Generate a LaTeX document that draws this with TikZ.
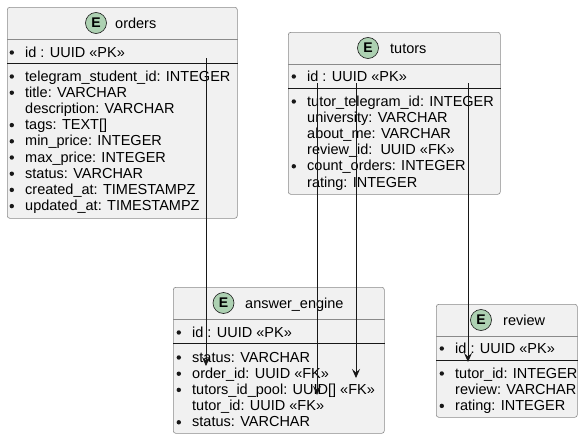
\documentclass[tikz,border=0pt]{standalone}
\usepackage{fontspec}
\setmainfont{Liberation Sans}
\usetikzlibrary{arrows.meta}

\definecolor{boxfill}{HTML}{F1F1F1}
\definecolor{boxline}{HTML}{8A8A8A}
\definecolor{spot}{HTML}{ADD1B2}
\definecolor{ink}{HTML}{181818}

\tikzset{
    entity/.style={draw=boxline, fill=boxfill, rounded corners=2.5pt, line width=0.6pt, anchor=north west, inner sep=0},
    headline/.style={boxline, line width=0.6pt},
    sepline/.style={ink, line width=0.9pt},
    spotE/.style={circle, draw=ink, fill=spot, line width=0.6pt, minimum size=21pt, inner sep=0, font=\fontsize{14pt}{14pt}\selectfont\bfseries},
    title/.style={anchor=base west, inner sep=0},
    field/.style={anchor=base west, inner sep=0, text height=11pt, text depth=2pt},
    item/.style={field, label={[circle, fill=ink, inner sep=0, minimum size=4.4pt, label distance=10.8pt]left:{}}},
    link/.style={->, ink, line width=0.8pt},
    >={Stealth[length=9pt, width=8pt, inset=3.5pt]}
}

\begin{document}
\begin{tikzpicture}[x=1pt, y=-1pt, font=\fontsize{14.5pt}{17pt}\selectfont]
            \useasboundingbox (0,0) rectangle (587,439);

            % Entities
            \node[entity, minimum width=230pt, minimum height=211pt] (orders) at (7,7) {};
            \node[entity, minimum width=212pt, minimum height=162pt] (tutors) at (288,32) {};
            \node[entity, minimum width=211pt, minimum height=146pt] (answer) at (173,287) {};
            \node[entity, minimum width=141pt, minimum height=113pt] (review) at (436,304) {};

            % Header and key lines
            \draw[headline] (orders.west |- 0,39.5) -- (orders.east |- 0,39.5);
            \draw[sepline] (orders.west |- 0,63) -- (orders.east |- 0,63);
            \draw[headline] (tutors.west |- 0,64) -- (tutors.east |- 0,64);
            \draw[sepline] (tutors.west |- 0,88) -- (tutors.east |- 0,88);
            \draw[headline] (answer.west |- 0,319) -- (answer.east |- 0,319);
            \draw[sepline] (answer.west |- 0,343) -- (answer.east |- 0,343);
            \draw[headline] (review.west |- 0,336) -- (review.east |- 0,336);
            \draw[sepline] (review.west |- 0,360) -- (review.east |- 0,360);

            % Titles
            \node[spotE] (ordersE) at (96,23) {E};
            \node[title] (ordersT) at (115,28) {orders};
            \node[spotE] (tutorsE) at (368,48) {E};
            \node[title] (tutorsT) at (390,53) {tutors};
            \node[spotE] (answerE) at (223.5,303) {E};
            \node[title] (answerT) at (245,308) {answer\_engine};
            \node[spotE] (reviewE) at (481,320) {E};
            \node[title] (reviewT) at (503,325) {review};

            % orders fields
            \node[item] (o0) at (25,57) {id : UUID «PK»};
            \node[item] (o1) at (25,81) {telegram\_student\_id: INTEGER};
            \node[item] (o2) at (25,97.2) {title: VARCHAR};
            \node[field] (o3) at (25,113.4) {description: VARCHAR};
            \node[item] (o4) at (25,129.6) {tags: TEXT[]};
            \node[item] (o5) at (25,145.8) {min\_price: INTEGER};
            \node[item] (o6) at (25,162) {max\_price: INTEGER};
            \node[item] (o7) at (25,178.2) {status: VARCHAR};
            \node[item] (o8) at (25,194.4) {created\_at: TIMESTAMPZ};
            \node[item] (o9) at (25,210.6) {updated\_at: TIMESTAMPZ};

            % tutors fields
            \node[item] (t0) at (307,81) {id : UUID «PK»};
            \node[item] (t1) at (307,106) {tutor\_telegram\_id: INTEGER};
            \node[field] (t2) at (307,122.2) {university: VARCHAR};
            \node[field] (t3) at (307,138.4) {about\_me: VARCHAR};
            \node[field] (t4) at (307,154.6) {review\_id:\ \ UUID «FK»};
            \node[item] (t5) at (307,170.8) {count\_orders: INTEGER};
            \node[field] (t6) at (307,187) {rating: INTEGER};

            % answer_engine fields
            \node[item] (a0) at (192,337) {id : UUID «PK»};
            \node[item] (a1) at (192,362) {status: VARCHAR};
            \node[item] (a2) at (192,378.2) {order\_id: UUID «FK»};
            \node[item] (a3) at (192,394.4) {tutors\_id\_pool: UUID[] «FK»};
            \node[field] (a4) at (192,410.6) {tutor\_id: UUID «FK»};
            \node[item] (a5) at (192,426.8) {status: VARCHAR};

            % review fields
            \node[item] (r0) at (455,353) {id : UUID «PK»};
            \node[item] (r1) at (455,378) {tutor\_id: INTEGER};
            \node[field] (r2) at (455,394.2) {review: VARCHAR};
            \node[item] (r3) at (455,410.4) {rating: INTEGER};

            % Link ends
            \coordinate (ordersId) at (206,58);
            \coordinate (answerOrder) at (206,366);
            \coordinate (tutorsPool) at (317,83);
            \coordinate (answerPool) at (317,395);
            \coordinate (tutorsId) at (356,83);
            \coordinate (answerTutor) at (356,378);
            \coordinate (tutorsReview) at (468,83);
            \coordinate (reviewTutor) at (468,362);

            % Edges
            \draw[link] (ordersId) -- (answerOrder);
            \draw[link] (tutorsPool) -- (answerPool);
            \draw[link] (tutorsId) -- (answerTutor);
            \draw[link] (tutorsReview) -- (reviewTutor);
        \end{tikzpicture}
\end{document}
